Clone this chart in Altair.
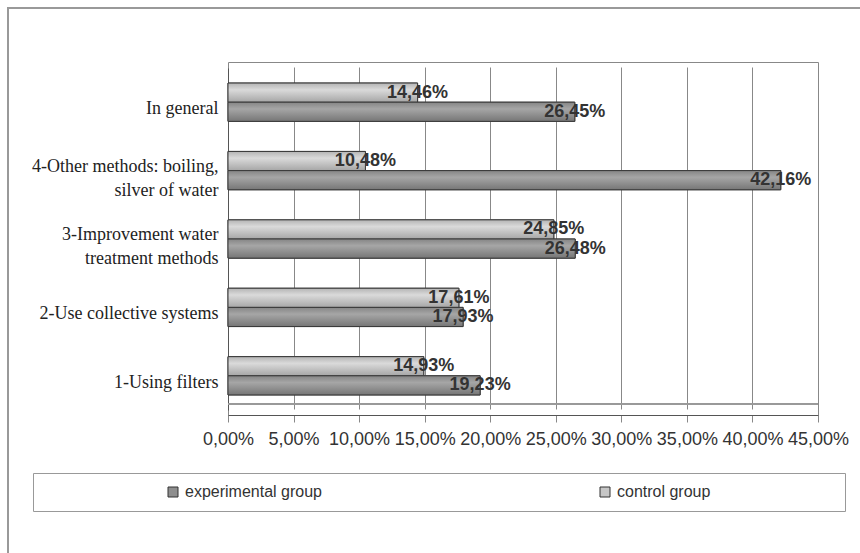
import altair as alt
import pandas as pd

categories = [
    "In general",
    "4-Other methods: boiling,\nsilver of water",
    "3-Improvement water\ntreatment methods",
    "2-Use collective systems",
    "1-Using filters",
]
control = [0.1446, 0.1048, 0.2485, 0.1761, 0.1493]
experimental = [0.2645, 0.4216, 0.2648, 0.1793, 0.1923]
groups_legend = ["experimental group", "control group"]
groups_stack = ["control group", "experimental group"]
x_ticks = [0.0, 0.05, 0.10, 0.15, 0.20, 0.25, 0.30, 0.35, 0.40, 0.45]

rows = []
for c, v in zip(categories, control):
    rows.append({"category": c, "group": "control group", "value": v})
for c, v in zip(categories, experimental):
    rows.append({"category": c, "group": "experimental group", "value": v})
df = pd.DataFrame(rows)

W, H = 590, 353

y_enc = alt.Y(
    "category:N",
    sort=categories,
    title=None,
    scale=alt.Scale(range=[6, 348], paddingInner=0.44, paddingOuter=0.22),
    axis=alt.Axis(
        labelExpr="split(datum.label, '\\n')",
        labelFont="Liberation Serif",
        labelFontSize=18,
        labelColor="#222",
        labelLineHeight=24,
        labelPadding=10,
        labelLimit=300,
        labelOffset={"condition": {"test": "indexof(datum.label, '\\n') >= 0", "value": -4}, "value": 7},
        ticks=False,
        domainColor="#555",
        grid=False,
    ),
)
yoff = alt.YOffset("group:N", sort=groups_stack,
                   scale=alt.Scale(domain=groups_stack, paddingInner=0, paddingOuter=0))
x_enc = alt.X(
    "value:Q",
    title=None,
    scale=alt.Scale(domain=[0, 0.45], nice=False),
    axis=alt.Axis(
        values=x_ticks,
        labelExpr="replace(format(datum.value, '.2%'), '.', ',')",
        labelFont="Liberation Sans",
        labelFontSize=18,
        labelColor="#333",
        labelFlush=False,
        labelPadding=8,
        tickSize=7,
        tickColor="#888",
        domainColor="#555",
        grid=True,
        gridColor="#888",
        gridWidth=1,
    ),
)

base = alt.Chart(df)

bars = base.mark_bar(stroke="#3a3a3a", strokeWidth=1).encode(
    x=x_enc,
    y=y_enc,
    yOffset=yoff,
    color=alt.Color(
        "group:N",
        scale=alt.Scale(domain=groups_legend, range=["#8e8e8e", "#c6c6c6"]),
        legend=alt.Legend(
            orient="none",
            legendX=-195,
            legendY=411,
            direction="horizontal",
            columns=2,
            title="\u00a0",
            titleOrient="right",
            titlePadding=124,
            titleFontSize=10,
            strokeColor="#999",
            fillColor="white",
            padding=11,
            symbolType="square",
            symbolSize=100,
            symbolStrokeColor="#333",
            symbolStrokeWidth=1,
            symbolOffset=121,
            columnPadding=154,
            labelFont="Liberation Sans",
            labelFontSize=16,
            labelColor="#333",
            labelOffset=4,
        ),
    ),
)

def grad(stops):
    return alt.Gradient(
        gradient="linear",
        stops=[alt.GradientStop(offset=o, color=c) for o, c in stops],
        x1=0, x2=0, y1=0, y2=1,
    )

ctrl_overlay = base.transform_filter(alt.datum.group == "control group").mark_bar(
    color=grad([(0, "#b4b4b4"), (0.35, "#dadada"), (1, "#a6a6a6")]),
    stroke="#3a3a3a", strokeWidth=1,
).encode(x="value:Q", y=alt.Y("category:N", sort=categories), yOffset=yoff)

exp_overlay = base.transform_filter(alt.datum.group == "experimental group").mark_bar(
    color=grad([(0, "#858585"), (0.35, "#a6a6a6"), (1, "#767676")]),
    stroke="#3a3a3a", strokeWidth=1,
).encode(x="value:Q", y=alt.Y("category:N", sort=categories), yOffset=yoff)

labels = base.transform_calculate(
    txt="replace(format(datum.value, '.2%'), '.', ',')"
).mark_text(
    font="Liberation Sans", fontSize=18, fontWeight="bold", color="#333",
    align="center", baseline="middle",
).encode(x="value:Q", y=alt.Y("category:N", sort=categories), yOffset=yoff, text="txt:N")

floor = base.mark_rule(color="#999", strokeWidth=1).encode(
    y=alt.value(342), x=alt.value(0), x2=alt.value(W)
)

frame = base.mark_rect(fillOpacity=0, stroke="#999", strokeWidth=1.5).encode(
    x=alt.value(-220), x2=alt.value(700), y=alt.value(-54), y2=alt.value(560)
)

chart = alt.layer(frame, floor, bars, ctrl_overlay, exp_overlay, labels).properties(
    width=W,
    height=H,
    autosize=alt.AutoSizeParams(type="none"),
    padding={"left": 228, "top": 62, "right": 42, "bottom": 138},
    background="white",
).configure_view(stroke="#888", strokeWidth=1)

chart.save("out.html", embed_options={"renderer": "svg", "actions": False})
